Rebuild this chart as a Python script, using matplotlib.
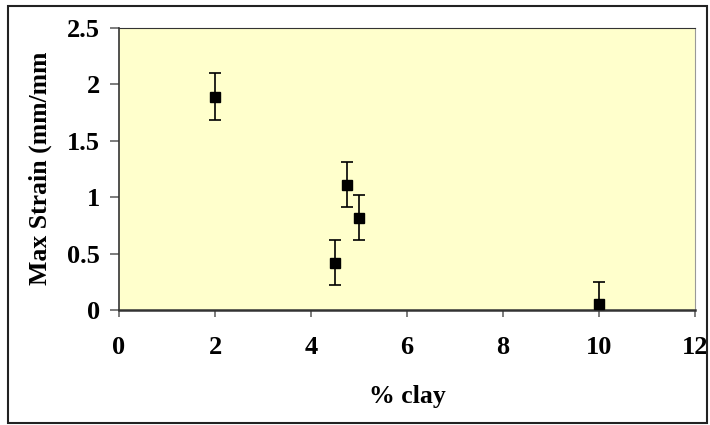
import matplotlib
matplotlib.use("Agg")
import matplotlib.pyplot as plt
from matplotlib.patches import Rectangle

# data
clay = [2, 4.5, 4.75, 5, 10]
strain = [1.89, 0.42, 1.11, 0.82, 0.05]
err = [0.21, 0.2, 0.2, 0.2, 0.2]

xticks = [0, 2, 4, 6, 8, 10, 12]
yticks = [0, 0.5, 1, 1.5, 2, 2.5]
ytick_labels = ["0", "0.5", "1", "1.5", "2", "2.5"]

plt.rcParams['font.family'] = ['Liberation Serif', 'DejaVu Serif']
plt.rcParams['font.weight'] = 'bold'

W, H = 710, 425
fig = plt.figure(figsize=(W / 100, H / 100), dpi=100)
ax = fig.add_axes([119 / W, 1 - 310 / H, (695 - 119) / W, (310 - 28) / H])
ax.set_facecolor("#FFFFCC")

ax.errorbar(clay, strain, yerr=err, fmt="s", color="black", markersize=6.5,
            ecolor="black", elinewidth=1.2, capsize=4.2, capthick=1.2, zorder=3)

ax.set_xlim(0, 12)
ax.set_ylim(0, 2.5)
ax.set_xticks(xticks)
ax.set_yticks(yticks)
ax.set_yticklabels(ytick_labels)
ax.tick_params(direction="out", width=1.2, colors="#666666", labelcolor="black",
               labelsize=19)
ax.tick_params(axis="x", length=5, pad=14)
ax.tick_params(axis="y", length=6.5, pad=7)
for lab in ax.get_xticklabels() + ax.get_yticklabels():
    lab.set_fontweight("bold")

ax.spines["left"].set_color("#333333")
ax.spines["bottom"].set_color("#333333")
ax.spines["bottom"].set_linewidth(1.8)
ax.spines["left"].set_linewidth(1.2)
ax.spines["top"].set_color("#333333")
ax.spines["right"].set_color("#999999")

fig.text(407 / W, 1 - 397 / H, "% clay", fontsize=18.5, fontweight="bold",
         ha="center", va="center")
fig.text(40 / W, 1 - 168 / H, "Max Strain (mm/mm", fontsize=18.5, fontweight="bold",
         ha="center", va="center", rotation=90)

# outer border of the chart
fig.patches.append(Rectangle((8 / W, 1 - 423 / H), (707 - 8) / W, (423 - 6) / H,
                             transform=fig.transFigure, fill=False, edgecolor="#222222",
                             linewidth=1.5))

fig.savefig("out.png", dpi=100)
